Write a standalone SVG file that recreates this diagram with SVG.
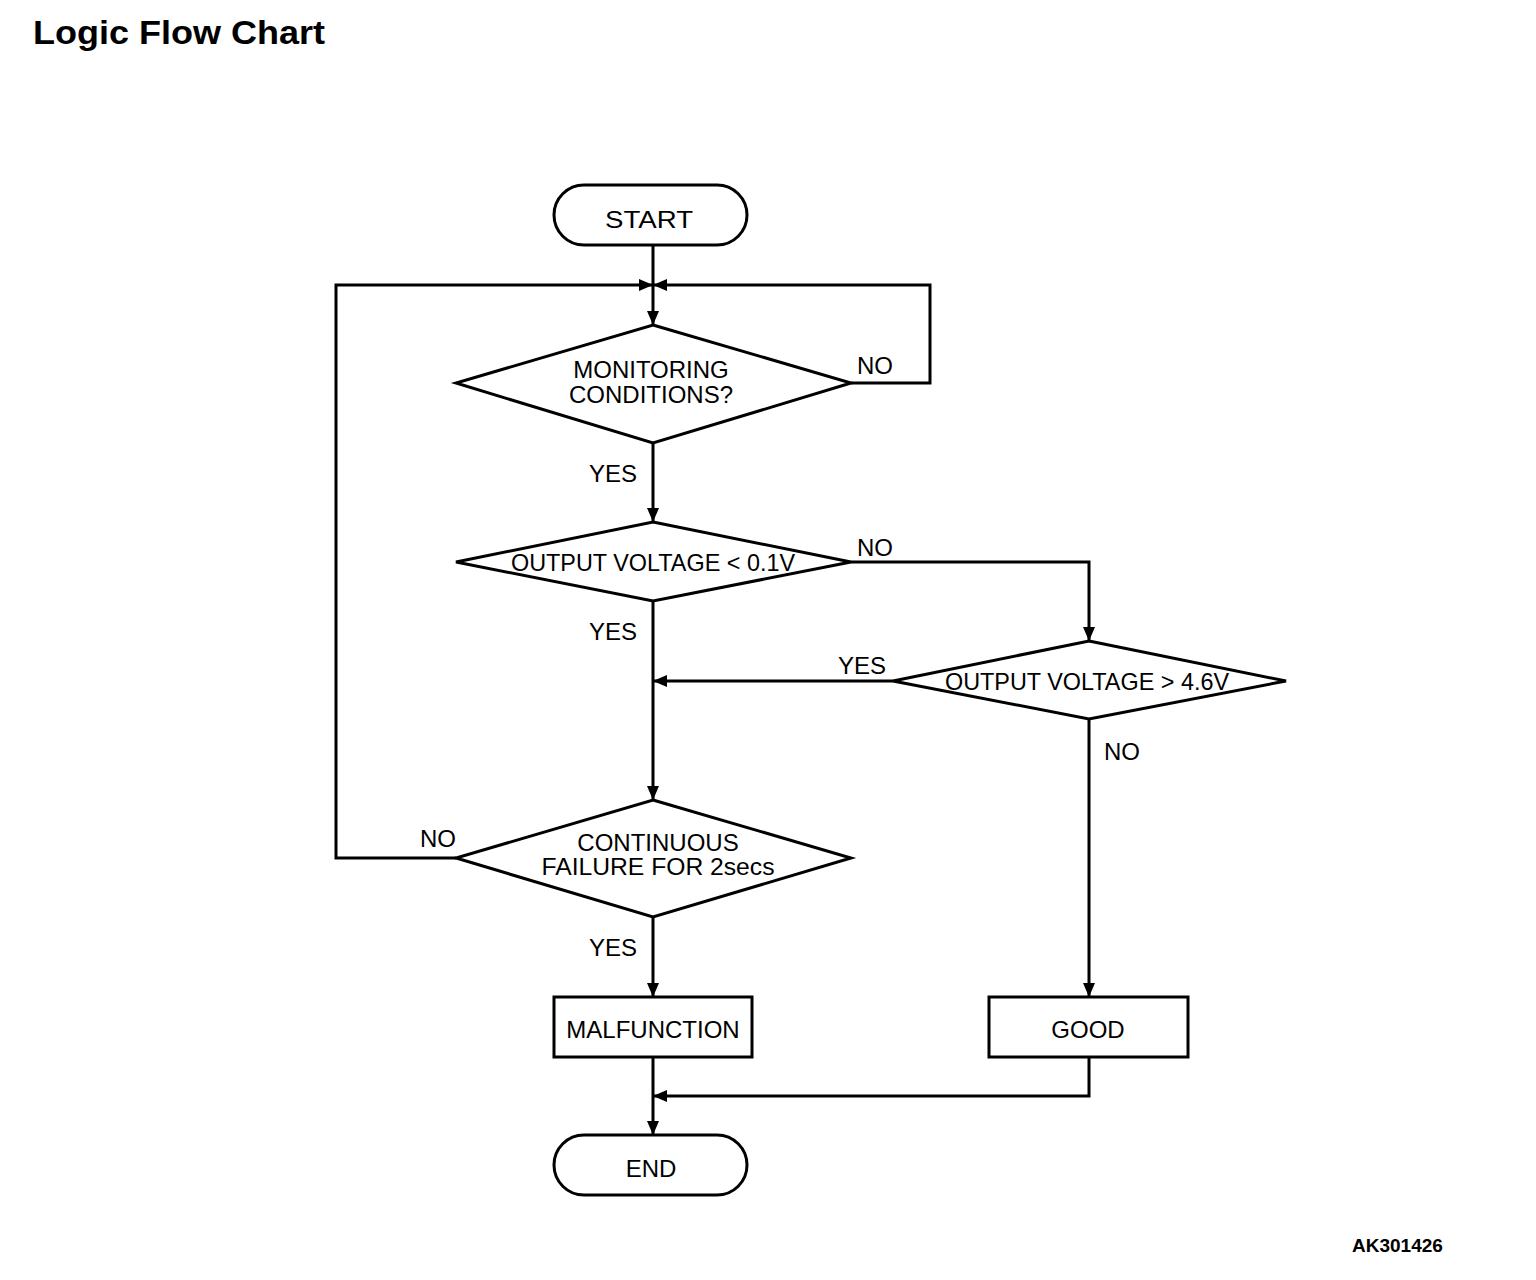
<svg xmlns="http://www.w3.org/2000/svg" width="1536" height="1280" viewBox="0 0 1536 1280">
<style>
.shape{fill:#fff;stroke:#000;stroke-width:3;stroke-linejoin:miter}
.line{fill:none;stroke:#000;stroke-width:3;marker-end:url(#arrow)}
text{font-family:"Liberation Sans",Arial,sans-serif;fill:#000}
.t{font-size:24px;text-anchor:middle}
.lbl{font-size:24px}
</style>
<defs>
<marker id="arrow" markerUnits="userSpaceOnUse" markerWidth="14" markerHeight="12" refX="14" refY="6" orient="auto">
<path d="M0,0 L14,6 L0,12 z" fill="#000"/>
</marker>
</defs>
<rect width="1536" height="1280" fill="#fff"/>
<text x="33" y="44" font-size="33" font-weight="bold" textLength="292" lengthAdjust="spacingAndGlyphs">Logic Flow Chart</text>
<text x="1352" y="1252" font-size="19" font-weight="bold">AK301426</text>

<g id="connectors">
<path class="line" d="M653,245 V325"/>
<path class="line" d="M456,858 H336 V285 H653"/>
<path class="line" d="M851,383 H930 V285 H653"/>
<path class="line" d="M653,443 V522"/>
<path class="line" d="M851,562 H1089 V641"/>
<path class="line" d="M653,601 V800"/>
<path class="line" d="M893,681 H653"/>
<path class="line" d="M1089,719 V997"/>
<path class="line" d="M653,917 V997"/>
<path class="line" d="M653,1057 V1135"/>
<path class="line" d="M1089,1057 V1096 H653"/>
<text class="lbl" x="857" y="374">NO</text>
<text class="lbl" x="589" y="482">YES</text>
<text class="lbl" x="857" y="556">NO</text>
<text class="lbl" x="589" y="640">YES</text>
<text class="lbl" x="838" y="674">YES</text>
<text class="lbl" x="1104" y="760">NO</text>
<text class="lbl" x="420" y="847">NO</text>
<text class="lbl" x="589" y="956">YES</text>
</g>

<g id="start">
<rect class="shape" x="554" y="185" width="193" height="60" rx="30" ry="30"/>
<text class="t" x="649" y="228" textLength="88" lengthAdjust="spacingAndGlyphs">START</text>
</g>
<g id="monitoring">
<polygon class="shape" points="653,325 851,383 653,443 456,383"/>
<text class="t" x="651" y="378">MONITORING</text>
<text class="t" x="651" y="403">CONDITIONS?</text>
</g>
<g id="low-voltage">
<polygon class="shape" points="653,522 851,562 653,601 456,562"/>
<text class="t" x="653" y="571" textLength="284" lengthAdjust="spacingAndGlyphs">OUTPUT VOLTAGE &lt; 0.1V</text>
</g>
<g id="high-voltage">
<polygon class="shape" points="1089,641 1286,681 1089,719 893,681"/>
<text class="t" x="1087" y="690" textLength="284" lengthAdjust="spacingAndGlyphs">OUTPUT VOLTAGE &gt; 4.6V</text>
</g>
<g id="continuous">
<polygon class="shape" points="653,800 851,858 653,917 456,858"/>
<text class="t" x="658" y="851">CONTINUOUS</text>
<text class="t" x="658" y="875" textLength="233" lengthAdjust="spacingAndGlyphs">FAILURE FOR 2secs</text>
</g>
<g id="malfunction">
<rect class="shape" x="554" y="997" width="198" height="60"/>
<text class="t" x="653" y="1038">MALFUNCTION</text>
</g>
<g id="good">
<rect class="shape" x="989" y="997" width="199" height="60"/>
<text class="t" x="1088" y="1038">GOOD</text>
</g>
<g id="end">
<rect class="shape" x="554" y="1135" width="193" height="60" rx="30" ry="30"/>
<text class="t" x="651" y="1177">END</text>
</g>
</svg>
